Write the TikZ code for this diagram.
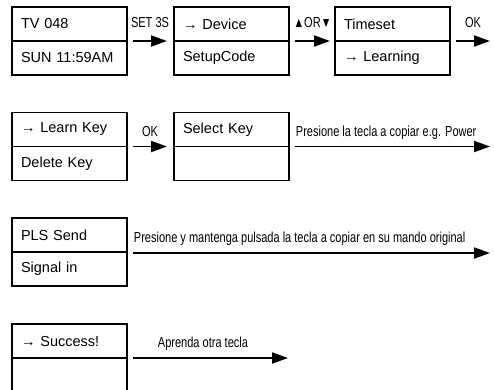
\documentclass[tikz,border=0pt]{standalone}
\usepackage{fontspec}
\setmainfont{Liberation Sans}
\newfontfamily\narrowfont[FakeStretch=0.76]{Liberation Sans}
\usetikzlibrary{arrows.meta}
\begin{document}
\begin{tikzpicture}[x=1pt,y=-1pt,line cap=butt,line join=miter]
	\tikzset{cell/.style={draw,line width=1.8pt,anchor=north west,outer sep=0pt,
			minimum height=34pt,text width=97pt,inner xsep=9pt,inner ysep=0pt,align=left,
			font=\fontsize{14.5}{16}\selectfont},
		flow/.style={line width=1.9pt,-{Triangle[length=16pt,width=11pt]}},
		lbl/.style={font=\narrowfont\fontsize{14.5}{16}\selectfont,anchor=base,inner sep=0pt}
	}
	\useasboundingbox (0,0) rectangle (494,389);
	\clip (0,0) rectangle (494,389);
	% first row
	\node[cell] (tv) at (12,7) {TV 048};
	\node[cell] (sun) at (tv.south west) {SUN 11:59AM};
	\node[cell] (dev) at (174,7) {→ Device};
	\node[cell] (setup) at (dev.south west) {SetupCode};
	\node[cell] (ts) at (335,7) {Timeset};
	\node[cell] (learn) at (ts.south west) {→ Learning};
	\coordinate (ok1) at (490,41);
	\draw[flow] ([xshift=6pt]tv.south east) -- ([xshift=-7pt]dev.south west) node[lbl,midway,yshift=14pt]{SET 3S};
	\draw[flow] ([xshift=6pt]dev.south east) -- ([xshift=-5pt]ts.south west) node[lbl,midway,yshift=14pt]{{\fontsize{14}{14}\selectfont▲}OR{\fontsize{14}{14}\selectfont▼}};
	\draw[flow] ([xshift=6pt]ts.south east) -- (ok1) node[lbl,midway,yshift=14pt]{OK};
	% second row
	\node[cell] (lk) at (12,112.5) {→ Learn Key};
	\node[cell] (del) at (lk.south west) {Delete Key};
	\node[cell] (sel) at (174,112.5) {Select Key};
	\node[cell] (blank1) at (sel.south west) {};
	\coordinate (pw) at (490,146.5);
	\draw[flow] ([xshift=6pt]lk.south east) -- ([xshift=-7pt]sel.south west) node[lbl,midway,yshift=10pt]{OK};
	\draw[flow] ([xshift=6pt]sel.south east) -- (pw) node[lbl,pos=0,anchor=base west,yshift=10pt]{Presione la tecla a copiar e.g. Power};
	% third row
	\node[cell] (pls) at (12,218) {PLS Send};
	\node[cell] (sig) at (pls.south west) {Signal in};
	\coordinate (orig) at (490,253);
	\draw[flow] ([xshift=6pt,yshift=-1pt]pls.south east) -- (orig) node[lbl,pos=0,anchor=base west,yshift=11pt]{Presione y mantenga pulsada la tecla a copiar en su mando original};
	% fourth row
	\node[cell] (succ) at (12,324) {→ Success!};
	\node[cell,minimum height=40pt] (blank2) at (succ.south west) {};
	\coordinate (otra) at (288,358);
	\draw[flow] ([xshift=6pt]succ.south east) -- (otra) node[lbl,pos=0,anchor=base west,xshift=24pt,yshift=11pt]{Aprenda otra tecla};
\end{tikzpicture}
\end{document}
